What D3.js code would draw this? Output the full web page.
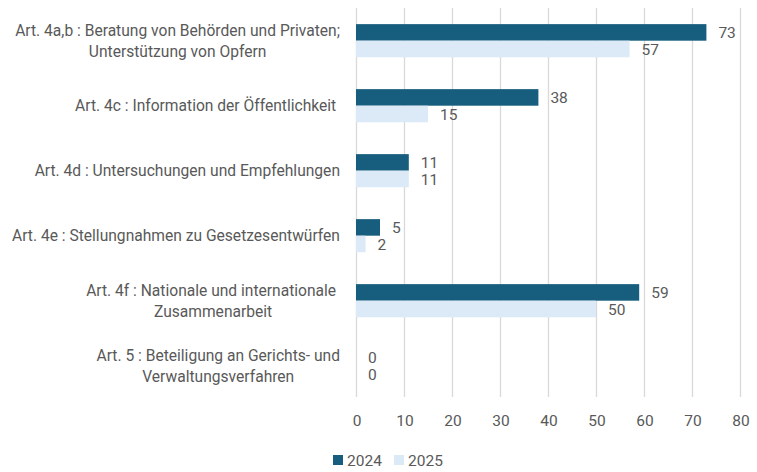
<!DOCTYPE html>
<html>
<head>
<meta charset="utf-8">
<script src="https://cdn.jsdelivr.net/npm/d3@7"></script>
<style>
  body { margin: 0; background: #fff; }
  svg text { font-family: Roboto, "Liberation Sans", sans-serif; fill: #595959; white-space: pre; }
</style>
</head>
<body>
<div id="chart"></div>
<script>
(function() {
  var width = 757, height = 472;

  // Data
  var categories = ["4ab", "4c", "4d", "4e", "4f", "5"];
  var labelLines = [
    ["Art. 4a,b : Beratung von Behörden und Privaten;", "Unterstützung von Opfern"],
    ["Art. 4c : Information der Öffentlichkeit "],
    ["Art. 4d : Untersuchungen und Empfehlungen"],
    ["Art. 4e : Stellungnahmen zu Gesetzesentwürfen"],
    ["Art. 4f : Nationale und internationale ", "Zusammenarbeit"],
    ["Art. 5 : Beteiligung an Gerichts- und", "Verwaltungsverfahren"]
  ];
  var seriesNames = ["2024", "2025"];
  var values2024 = [73, 38, 11, 5, 59, 0];
  var values2025 = [57, 15, 11, 2, 50, 0];
  var xTicks = [0, 10, 20, 30, 40, 50, 60, 70, 80];
  var colors = ["#175E7E", "#DCE9F7"];

  var series = [values2024, values2025];

  var svg = d3.select("#chart").append("svg")
    .attr("width", width)
    .attr("height", height);

  // Scales
  var x = d3.scaleLinear().domain([0, 80]).range([356, 740]);
  var y = d3.scaleBand().domain(categories).range([8.2, 398.2])
    .paddingInner(0.49).paddingOuter(0.245);
  var ySub = d3.scaleBand().domain(seriesNames).range([0, y.bandwidth()]);

  // gridlines
  svg.append("g")
    .selectAll("line")
    .data(xTicks)
    .enter().append("line")
    .attr("x1", function(d){ return x(d) + 0.5 })
    .attr("x2", function(d){ return x(d) + 0.5 })
    .attr("y1", 8)
    .attr("y2", 397)
    .attr("stroke", "#D9D9D9")
    .attr("stroke-width", 1.3);

  // bars
  var groups = svg.append("g")
    .selectAll("g")
    .data(seriesNames)
    .enter().append("g")
    .attr("fill", function(d, i){ return colors[i] });

  groups.each(function(name, si) {
    var g = d3.select(this);
    g.selectAll("rect")
      .data(series[si])
      .enter().append("rect")
      .attr("x", x(0))
      .attr("y", function(d, i){ return y(categories[i]) + ySub(name) })
      .attr("width", function(d){ return x(d) - x(0) })
      .attr("height", ySub.bandwidth());

    g.selectAll("text")
      .data(series[si])
      .enter().append("text")
      .attr("x", function(d){ return x(d) + 12 })
      .attr("y", function(d, i){ return y(categories[i]) + ySub(name) + ySub.bandwidth() / 2 })
      .attr("dy", "0.36em")
      .style("font-size", "15.5px")
      .text(function(d){ return d });
  });

  // category labels
  var lineHeight = 21;
  var labels = svg.append("g")
    .selectAll("text")
    .data(labelLines)
    .enter().append("text")
    .style("font-size", "15.6px")
    .attr("text-anchor", "middle");

  labels.each(function(lines, i) {
    var t = d3.select(this);
    var cy = y(categories[i]) + y.bandwidth() / 2;
    var top = cy - (lines.length - 1) * lineHeight / 2;
    lines.forEach(function(l, j) {
      t.append("tspan")
        .attr("y", top + j * lineHeight)
        .attr("dy", "0.36em")
        .text(l);
    });
    var maxW = 0;
    t.selectAll("tspan").each(function(){ maxW = Math.max(maxW, this.getComputedTextLength()) });
    t.selectAll("tspan").attr("x", 340 - maxW / 2);
  });

  // x axis
  var xAxis = d3.axisBottom(x)
    .tickValues(xTicks)
    .tickSize(0)
    .tickPadding(0);

  var ax = svg.append("g")
    .attr("transform", "translate(0.5,420)")
    .call(xAxis);
  ax.select(".domain").remove();
  ax.selectAll("text")
    .attr("y", 0)
    .attr("dy", "0.36em")
    .style("font-size", "15.5px")
    .style("font-family", null);

  // legend
  var legendX = [333, 394];
  var legend = svg.append("g")
    .selectAll("g")
    .data(seriesNames)
    .enter().append("g")
    .attr("transform", function(d, i){ return "translate(" + legendX[i] + ",455)" });

  legend.append("rect")
    .attr("width", 10)
    .attr("height", 10)
    .attr("fill", function(d, i){ return colors[i] });

  legend.append("text")
    .attr("x", 14)
    .attr("y", 5)
    .attr("dy", "0.36em")
    .style("font-size", "15.5px")
    .text(function(d){ return d });
})();
</script>
</body>
</html>
